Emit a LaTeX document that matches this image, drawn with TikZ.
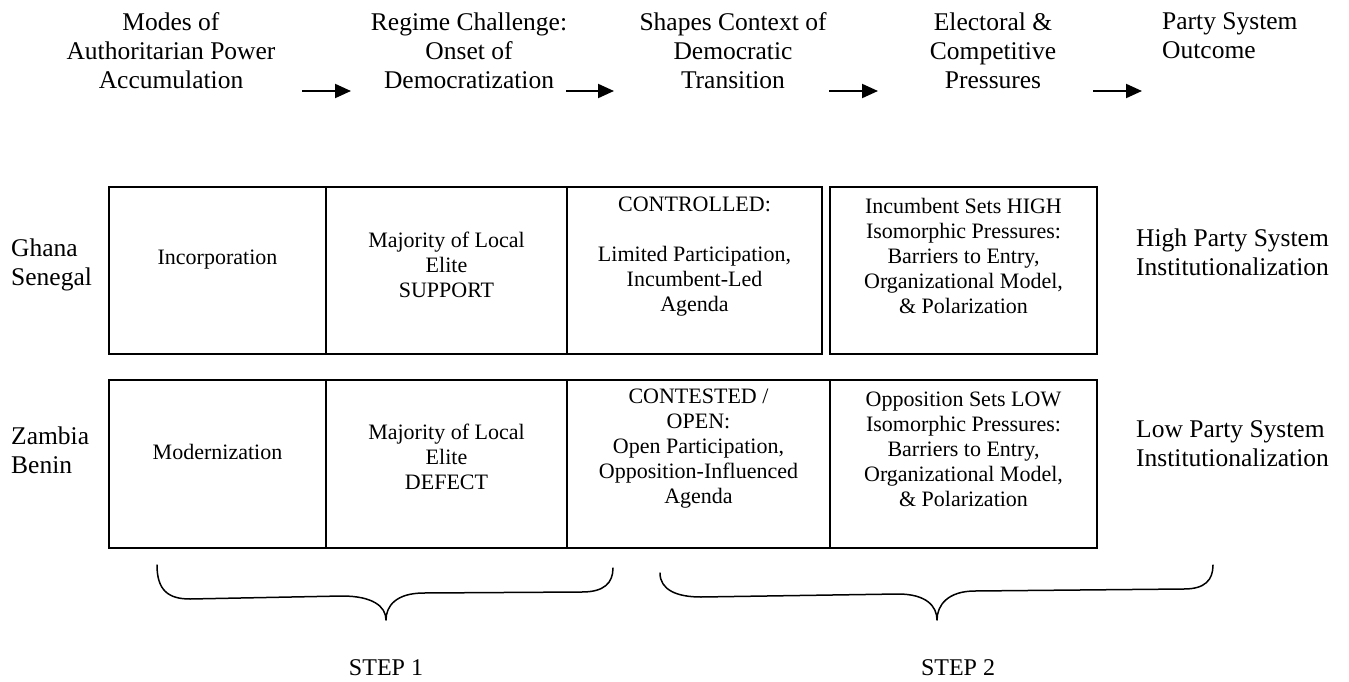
\documentclass[tikz,border=0pt]{standalone}
\usepackage{fontspec}
\setmainfont{Liberation Serif}
\usetikzlibrary{arrows.meta}

\tikzset{
  head/.style={font=\fontsize{25.5}{29}\selectfont, align=center, inner sep=0pt},
  cell/.style={font=\fontsize{22}{25}\selectfont, align=center, inner sep=0pt},
  side/.style={font=\fontsize{25.5}{29}\selectfont, align=left, inner sep=0pt, anchor=west},
  steplabel/.style={font=\fontsize{24}{28}\selectfont, inner sep=0pt},
  flow/.style={line width=2pt, -{Triangle[length=16pt,width=14pt]}},
  frame/.style={line width=2pt},
  brace/.style={line width=1.5pt, line cap=round, line join=round}
}

\begin{document}
\begin{tikzpicture}[x=1pt, y=-1pt]
  \useasboundingbox (0,0) rectangle (1349,682);

  % column headings
  \node[head] (h1) at (171,50.4) {Modes of\\Authoritarian Power\\Accumulation};
  \node[head] (h2) at (469,50.4) {Regime Challenge:\\Onset of\\Democratization};
  \node[head] (h3) at (733,50.4) {Shapes Context of\\Democratic\\Transition};
  \node[head] (h4) at (993,50.4) {Electoral \&\\Competitive\\Pressures};
  \node[side] (h5) at (1162,35.9) {Party System\\Outcome};

  % arrows between the stages
  \coordinate (a1s) at (302,91);  \coordinate (a1e) at (351,91);
  \coordinate (a2s) at (566,91);  \coordinate (a2e) at (614,91);
  \coordinate (a3s) at (829,91);  \coordinate (a3e) at (878,91);
  \coordinate (a4s) at (1093,91); \coordinate (a4e) at (1142,91);
  \draw[flow] (a1s) -- (a1e);
  \draw[flow] (a2s) -- (a2e);
  \draw[flow] (a3s) -- (a3e);
  \draw[flow] (a4s) -- (a4e);

  % first row: Ghana / Senegal
  \draw[frame] (109,187) rectangle (822,354);
  \draw[frame] (326,187) -- (326,354);
  \draw[frame] (567,187) -- (567,354);
  \draw[frame] (830,187) rectangle (1097,354);

  \node[side] (r1) at (11,265) {Ghana\\Senegal};
  \node[cell] (c11) at (217.5,260) {Incorporation};
  \node[cell] (c12) at (446.5,265) {Majority of Local\\Elite\\SUPPORT};
  \node[cell] (c13) at (694.5,257) {CONTROLLED:\\[25pt]Limited Participation,\\Incumbent-Led\\Agenda};
  \node[cell] (c14) at (963.5,256) {Incumbent Sets HIGH\\Isomorphic Pressures:\\Barriers to Entry,\\Organizational Model,\\\& Polarization};
  \node[side] (o1) at (1136,252) {High Party System\\Institutionalization};

  % second row: Zambia / Benin
  \draw[frame] (109,380) rectangle (1097,548);
  \draw[frame] (326,380) -- (326,548);
  \draw[frame] (567,380) -- (567,548);
  \draw[frame] (830,380) -- (830,548);

  \node[side] (r2) at (11,450) {Zambia\\Benin};
  \node[cell] (c21) at (217.5,452) {Modernization};
  \node[cell] (c22) at (446.5,457) {Majority of Local\\Elite\\DEFECT};
  \node[cell] (c23) at (698.5,449) {CONTESTED /\\OPEN:\\Open Participation,\\Opposition-Influenced\\Agenda};
  \node[cell] (c24) at (963.5,449) {Opposition Sets LOW\\Isomorphic Pressures:\\Barriers to Entry,\\Organizational Model,\\\& Polarization};
  \node[side] (o2) at (1136,444) {Low Party System\\Institutionalization};

  % braces grouping the steps
  \draw[brace] (157,565) .. controls (157,590) and (168,599) .. (190,599)
    -- (342,596) .. controls (372,596) and (386,606) .. (386,620)
    .. controls (386,606) and (396,593) .. (424,593)
    -- (582,592) .. controls (604,592) and (613,583) .. (613,568);
  \draw[brace] (660,573) .. controls (660,590) and (677,597) .. (701,597)
    -- (898,594) .. controls (926,594) and (937,606) .. (937,620)
    .. controls (937,605) and (948,591) .. (975,591)
    -- (1184,589) .. controls (1205,589) and (1213,580) .. (1213,565);

  \node[steplabel] (s1) at (386,668) {STEP 1};
  \node[steplabel] (s2) at (958,668) {STEP 2};
\end{tikzpicture}
\end{document}
